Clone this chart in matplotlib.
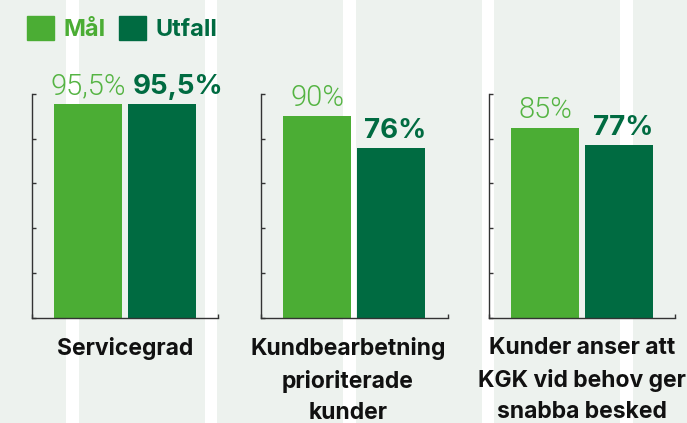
import matplotlib.pyplot as plt
from matplotlib.patches import Patch

categories = ["Servicegrad", "Kundbearbetning\nprioriterade\nkunder", "Kunder anser att\nKGK vid behov ger\nsnabba besked"]
series = ["Mål", "Utfall"]
mal = [95.5, 90, 85]
utfall = [95.5, 76, 77]
mal_labels = ["95,5%", "90%", "85%"]
utfall_labels = ["95,5%", "76%", "77%"]

LIGHT = "#4bad34"
DARK = "#006b41"
BG = "#edf2ee"

fig = plt.figure(figsize=(6.87, 4.23), dpi=100, facecolor=BG)

# white vertical stripes behind everything
bg = fig.add_axes([0, 0, 1, 1], zorder=-1)
bg.set_xlim(0, 687)
bg.set_ylim(0, 423)
bg.axis("off")
for i in range(5):
    x0 = 66 + i * 138.6
    bg.axvspan(x0, x0 + 12.5, color="white", lw=0)

W, H = 687, 423
lefts = [31.7, 261, 488.7]
label_dx = [0, -4.5, 0]  # points
bw = 0.915

for k, left in enumerate(lefts):
    ax = fig.add_axes([left / W, 105.5 / H, 186.5 / W, 223.5 / H])
    ax.set_facecolor("none")
    ax.bar(0, mal[k], width=bw, color=LIGHT)
    ax.bar(1, utfall[k], width=bw, color=DARK)
    ax.set_xlim(-0.76, 1.76)
    ax.set_ylim(0, 100)
    ax.set_yticks(range(0, 101, 20))
    ax.set_yticklabels([])
    ax.set_xticks([-0.76, 1.76])
    ax.set_xticklabels([])
    ax.tick_params(direction="in", length=3, width=1, color="#333333")
    for s in ["top", "right"]:
        ax.spines[s].set_visible(False)
    for s in ["left", "bottom"]:
        ax.spines[s].set_color("#333333")
        ax.spines[s].set_linewidth(1)

    shift = 16 if k == 0 else 4
    ax.annotate(mal_labels[k], (0, mal[k]), xytext=(0, 7.2), textcoords="offset points",
                ha="center", va="baseline", color="#55b443", fontsize=21,
                family="Roboto", fontweight=300)
    ax.annotate(utfall_labels[k], (1, utfall[k]), xytext=(shift * 0.72, 7.2), textcoords="offset points",
                ha="center", va="baseline", color=DARK, fontsize=20,
                family="Inter", fontweight="bold")

    ax.annotate(categories[k], (0.5, 0), xycoords="axes fraction", xytext=(label_dx[k], -14),
                textcoords="offset points", ha="center", va="top", fontsize=16.5,
                family="Inter", fontweight="bold", color="#111111", linespacing=1.54,
                annotation_clip=False)

handles = [Patch(color=LIGHT), Patch(color=DARK)]
leg = fig.legend(handles, series, loc="upper left", bbox_to_anchor=(27 / W, 1 - 16 / H),
                 frameon=False, ncol=2, handlelength=1.15, handleheight=1.2,
                 handletextpad=0.4, columnspacing=0.55, borderpad=0, borderaxespad=0,
                 prop={"family": "Inter", "weight": "bold", "size": 17})
for t, c in zip(leg.get_texts(), [LIGHT, DARK]):
    t.set_color(c)

fig.savefig("out.png", dpi=100, facecolor=BG)
